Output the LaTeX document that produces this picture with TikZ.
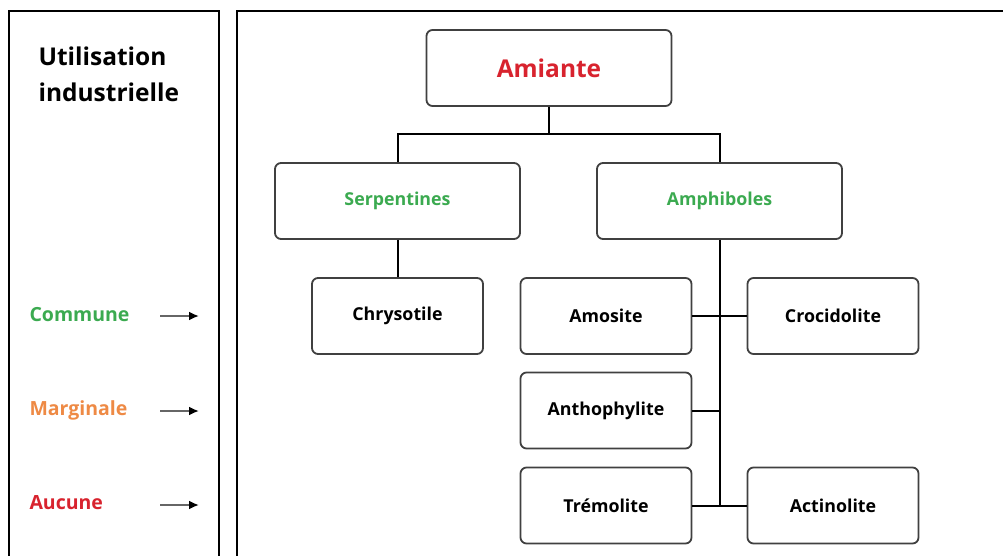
\documentclass[tikz,border=0pt]{standalone}
\usepackage{fontspec}
\setmainfont{Open Sans}
\usepackage{tikz}
\usetikzlibrary{arrows.meta}
\usetikzlibrary{positioning}
\definecolor{vert}{HTML}{3BAA50}
\definecolor{orange}{HTML}{EE8A45}
\definecolor{rouge}{HTML}{D8232E}
\tikzset{
  box/.style={draw=black!75, line width=1.8pt, rounded corners=6pt, fill=white,
    font=\bfseries\fontsize{17.8}{20}\selectfont, minimum width=171pt, minimum height=76pt},
  bigbox/.style={box, minimum width=245pt},
  frame/.style={draw=black, line width=2pt},
  link/.style={draw=black, line width=2pt},
  legend/.style={anchor=west, font=\bfseries\fontsize{19.5}{22}\selectfont},
  pointer/.style={draw=black!60, line width=2.2pt, -{Latex[length=10pt,width=9pt,color=black]}}
}

\begin{document}
\begin{tikzpicture}[x=1pt,y=-1pt,node distance=2cm,on grid]
        \useasboundingbox (0,0) rectangle (1003,556);

        % frames
        \draw[frame] (9,11) rectangle (219,570);
        \draw[frame] (237,11) rectangle (1020,570);

        % left column
        \node[anchor=north west, align=left, font=\bfseries\fontsize{24.5}{36}\selectfont] (titre) at (35,43) {Utilisation\\industrielle};
        \node[legend, text=vert] (commune) at (26,315) {Commune};
        \node[legend, text=orange] (marginale) at (26,410) {Marginale};
        \node[legend, text=rouge] (aucune) at (26,503) {Aucune};

        \coordinate (c_1) at (160,316);  \coordinate (c_2) at (199,316);
        \coordinate (m_1) at (160,411);  \coordinate (m_2) at (199,411);
        \coordinate (a_1) at (160,505);  \coordinate (a_2) at (199,505);

        \draw[pointer] (c_1) -- (c_2);
        \draw[pointer] (m_1) -- (m_2);
        \draw[pointer] (a_1) -- (a_2);

        % tree
        \node[bigbox, text=rouge, font=\bfseries\fontsize{24.5}{28}\selectfont] (amiante) at (549,68) {Amiante};
        \node[bigbox, text=vert] (serp) [below left=133pt and 151.5pt of amiante] {Serpentines};
        \node[bigbox, text=vert] (amph) [right=322pt of serp] {Amphiboles};

        \node[box] (chrys) [below=115pt of serp] {Chrysotile};

        \node[box] (amos) [below left=115pt and 113.5pt of amph] {Amosite};
        \node[box] (croc) [right=227pt of amos] {Crocidolite};
        \node[box] (antho) [below=94.5pt of amos] {Anthophylite};
        \node[box] (trem) [below=95pt of antho] {Trémolite};
        \node[box] (actin) [right=227pt of trem] {Actinolite};

        \coordinate[below=66pt of amiante] (split);
        \coordinate (trunk) at (amph.south |- trem);

        \draw[link] (amiante.south) -- (split);
        \draw[link] (serp.north) |- (split) -| (amph.north);

        \path[link]
        (serp.south) edge (chrys.north)
        (amph.south) edge (trunk)
        (amos.east) edge (croc.west)
        (antho.east) edge (antho -| trunk)
        (trem.east) edge (actin.west);
      \end{tikzpicture}
\end{document}
